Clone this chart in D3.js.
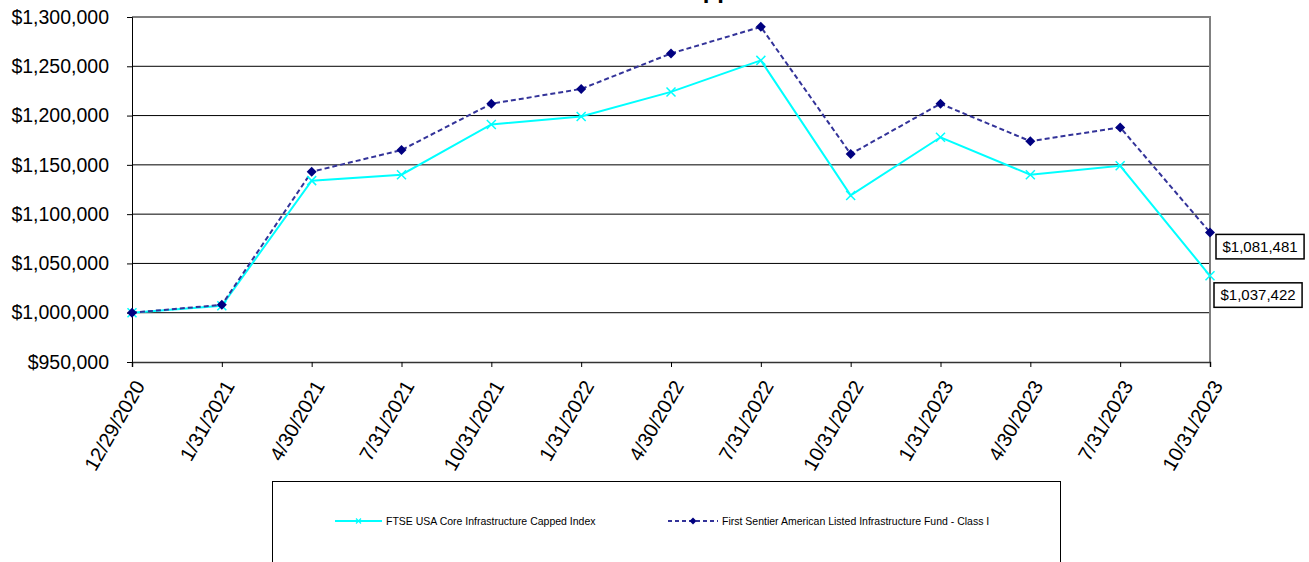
<!DOCTYPE html>
<html>
<head>
<meta charset="utf-8">
<script src="https://cdn.jsdelivr.net/npm/d3@7"></script>
<style>
  html, body { margin: 0; padding: 0; background: #fff; }
  svg { display: block; font-family: Arial, "Liberation Sans", sans-serif; }
</style>
</head>
<body>
<svg id="chart" width="1309" height="562"></svg>
<script>
// Reporting dates (category axis)
const dates = ["12/29/2020", "1/31/2021", "4/30/2021", "7/31/2021", "10/31/2021", "1/31/2022",
               "4/30/2022", "7/31/2022", "10/31/2022", "1/31/2023", "4/30/2023", "7/31/2023", "10/31/2023"];

// Growth of $1,000,000 — benchmark index
const indexValues = [1000000, 1007000, 1134000, 1140000, 1191000, 1199000,
                     1224000, 1256000, 1119000, 1178000, 1140000, 1149000, 1037422];

// Growth of $1,000,000 — fund, Class I
const fundValues = [1000000, 1008000, 1143000, 1165000, 1212000, 1227000,
                    1263000, 1290000, 1161000, 1212000, 1174000, 1188000, 1081481];

const seriesNames = ["FTSE USA Core Infrastructure Capped Index",
                     "First Sentier American Listed Infrastructure Fund - Class I"];

const yTicks = [950000, 1000000, 1050000, 1100000, 1150000, 1200000, 1250000, 1300000];

const chartTitle = "Supplemental Information";

const svg = d3.select("#chart");
const plotLeft = 132, plotRight = 1210, plotTop = 17, plotBottom = 362;

const x = d3.scalePoint().domain(dates).range([plotLeft, plotRight]);
const y = d3.scaleLinear().domain([950000, 1300000]).range([plotBottom, plotTop]);
const money = d3.format("$,.0f");

// Title (sits above the visible area)
svg.append("text")
  .attr("x", 672).attr("y", -2.5)
  .attr("font-size", 24).attr("font-weight", "bold")
  .text(chartTitle);

// Horizontal gridlines
svg.append("g")
  .selectAll("line")
  .data(yTicks.filter(v => v > 950000 && v < 1300000))
  .join("line")
  .attr("x1", plotLeft).attr("x2", plotRight)
  .attr("y1", d => y(d)).attr("y2", d => y(d))
  .attr("stroke", "#000").attr("stroke-width", 1);

// Plot frame: top and right edges
svg.append("line").attr("x1", plotLeft).attr("x2", plotRight + 1)
  .attr("y1", y(1300000)).attr("y2", y(1300000))
  .attr("stroke", "#808080").attr("stroke-width", 2);
svg.append("line").attr("x1", plotRight).attr("x2", plotRight)
  .attr("y1", plotTop).attr("y2", plotBottom)
  .attr("stroke", "#808080").attr("stroke-width", 2);

// Y axis
const yAxis = svg.append("g")
  .attr("transform", `translate(${plotLeft},0)`)
  .call(d3.axisLeft(y).tickValues(yTicks).tickSize(5).tickPadding(18).tickFormat(money));
yAxis.select(".domain").attr("stroke", "#000");
yAxis.selectAll(".tick line").attr("stroke", "#000");
yAxis.selectAll(".tick text")
  .attr("font-size", 19.5).attr("font-family", "Arial, 'Liberation Sans', sans-serif")
  .attr("fill", "#000");

// X axis
const xAxis = svg.append("g")
  .attr("transform", `translate(0,${plotBottom})`)
  .call(d3.axisBottom(x).tickSize(5).tickPadding(0));
xAxis.select(".domain").attr("stroke", "#333").attr("stroke-width", 1.5);
xAxis.selectAll(".tick line").attr("stroke", "#000");
xAxis.selectAll(".tick text")
  .attr("font-size", 20).attr("font-family", "Arial, 'Liberation Sans', sans-serif")
  .attr("fill", "#000")
  .attr("text-anchor", "end")
  .attr("dy", "0.35em")
  .attr("transform", "translate(7,20) rotate(-60)")
  .attr("y", 0);

// Series lines
const line = d3.line().x((d, i) => x(dates[i])).y(d => y(d));

svg.append("path").datum(indexValues)
  .attr("d", line).attr("fill", "none")
  .attr("stroke", "#00FFFF").attr("stroke-width", 2);

svg.append("path").datum(fundValues)
  .attr("d", line).attr("fill", "none")
  .attr("stroke", "#333399").attr("stroke-width", 2)
  .attr("stroke-dasharray", "5,3");

// Markers
const xMark = s => `M${-s},${-s}L${s},${s}M${-s},${s}L${s},${-s}`;
const diamond = s => `M0,${-s}L${s},0L0,${s}L${-s},0Z`;

svg.append("g").selectAll("path")
  .data(indexValues).join("path")
  .attr("transform", (d, i) => `translate(${x(dates[i])},${y(d)})`)
  .attr("d", xMark(4.5)).attr("fill", "none")
  .attr("stroke", "#00FFFF").attr("stroke-width", 1.5);

svg.append("g").selectAll("path")
  .data(fundValues).join("path")
  .attr("transform", (d, i) => `translate(${x(dates[i])},${y(d)})`)
  .attr("d", diamond(5)).attr("fill", "#000080");

// End-value labels
function endLabel(value, dx, dy) {
  const px = x(dates[dates.length - 1]), py = y(value);
  const g = svg.append("g").attr("transform", `translate(${px + dx},${py + dy})`);
  const rect = g.append("rect").attr("fill", "#fff").attr("stroke", "#000").attr("stroke-width", 1.5);
  const t = g.append("text").attr("font-size", 15).attr("x", 6.5).attr("y", 12.3)
    .attr("dy", "0.35em").text(money(value));
  const w = t.node().getComputedTextLength();
  rect.attr("x", 0).attr("y", 0).attr("width", w + 13).attr("height", 24.5);
}
endLabel(fundValues[fundValues.length - 1], 6, 2);
endLabel(indexValues[indexValues.length - 1], 4, 7);

// Legend
const lg = svg.append("g");
lg.append("rect").attr("x", 272.5).attr("y", 481.5).attr("width", 788).attr("height", 120)
  .attr("fill", "#fff").attr("stroke", "#000").attr("stroke-width", 1);

const ly = 521;
lg.append("line").attr("x1", 335).attr("x2", 382).attr("y1", ly).attr("y2", ly)
  .attr("stroke", "#00FFFF").attr("stroke-width", 2);
lg.append("path").attr("transform", `translate(358.5,${ly})`).attr("d", xMark(2.5))
  .attr("stroke", "#00FFFF").attr("stroke-width", 1.2).attr("fill", "none");
lg.append("text").attr("x", 386).attr("y", ly).attr("dy", "0.35em")
  .attr("font-size", 10.5).text(seriesNames[0]);

lg.append("line").attr("x1", 668).attr("x2", 718).attr("y1", ly).attr("y2", ly)
  .attr("stroke", "#333399").attr("stroke-width", 2).attr("stroke-dasharray", "4,3");
lg.append("path").attr("transform", `translate(693,${ly})`).attr("d", diamond(3.5))
  .attr("fill", "#000080");
lg.append("text").attr("x", 722).attr("y", ly).attr("dy", "0.35em")
  .attr("font-size", 10.5).text(seriesNames[1]);
</script>
</body>
</html>
